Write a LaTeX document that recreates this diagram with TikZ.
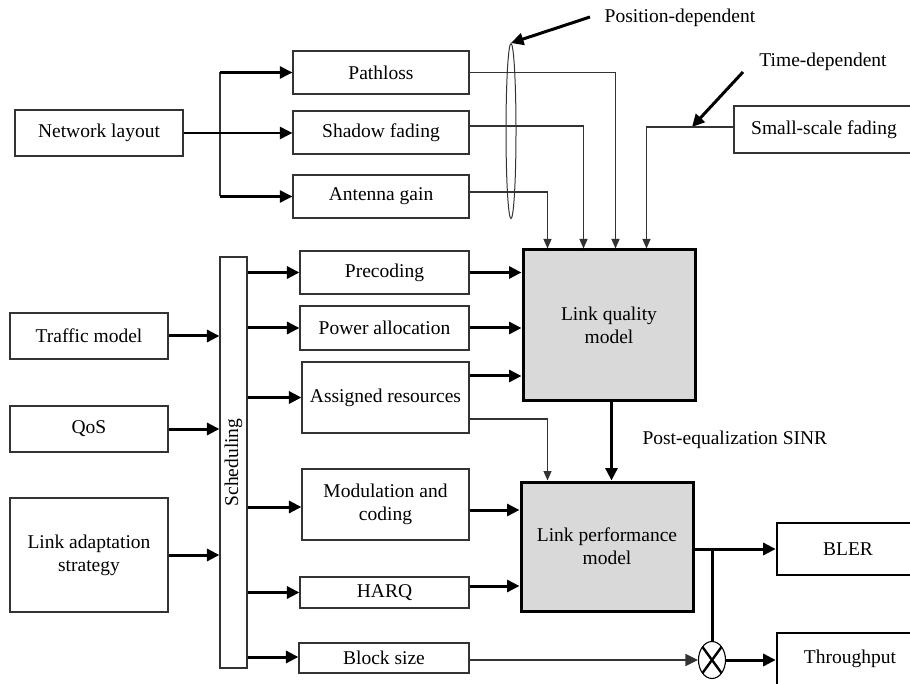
\documentclass[tikz,border=0pt]{standalone}
\usepackage{fontspec}
\setmainfont{Liberation Serif}
\usetikzlibrary{arrows.meta,calc,shapes.geometric}
\begin{document}
\begin{tikzpicture}[x=1pt,y=-1pt,
  every node/.style={font=\fontsize{19.5}{23}\selectfont},
  bx/.style={draw=black!80, line width=1.1pt, rectangle, inner sep=0pt, align=center},
  heavybox/.style={bx, draw=black, line width=2.6pt},
  modelbox/.style={bx, draw=black, line width=3pt, fill=gray!30},
  thk/.style={draw=black, line width=3pt},
  mid/.style={draw=black, line width=2.2pt},
  thn/.style={draw=black!80, line width=1.1pt},
  bigtip/.style={-{Triangle[length=12.5pt,width=12pt]}},
  smalltip/.style={-{Triangle[length=9.5pt,width=8pt]}},
]
\useasboundingbox (0,0) rectangle (910,684);
\clip (0,0) rectangle (910,684);

% nodes
\node[bx, minimum width=168pt, minimum height=46pt] (net) at (99,133) {Network layout};
\node[bx, minimum width=176pt, minimum height=43pt] (path) at (381,72.5) {Pathloss};
\node[bx, minimum width=176pt, minimum height=43pt] (shad) at (381,132.5) {Shadow fading};
\node[bx, minimum width=176pt, minimum height=43pt] (ant) at (381,196.5) {Antenna gain};
\node[bx, minimum width=180pt, minimum height=47pt] (ssf) at (824,129.5) {Small-scale fading};

\node[bx, minimum width=158pt, minimum height=46pt] (traf) at (89,336) {Traffic model};
\node[bx, minimum width=158pt, minimum height=46pt] (qos) at (89,429) {QoS};
\node[bx, minimum width=158pt, minimum height=114pt] (las) at (89,555) {Link adaptation\\strategy};
\node[bx, minimum width=27pt, minimum height=411pt] (sch) at (233.5,462.5) {};
\node[rotate=90] (schl) at (sch.center) {Scheduling};

\node[bx, minimum width=169pt, minimum height=43pt] (prec) at (384.5,272.5) {Precoding};
\node[bx, minimum width=169pt, minimum height=44pt] (pow) at (384.5,328) {Power allocation};
\node[bx, minimum width=167pt, minimum height=71pt] (asg) at (385.5,397.5) {Assigned resources};
\node[bx, minimum width=167pt, minimum height=71pt] (mod) at (385.5,504.5) {Modulation and\\coding};
\node[bx, minimum width=169pt, minimum height=31pt] (harq) at (384.5,592.5) {HARQ};
\node[bx, minimum width=170pt, minimum height=30pt] (blk) at (384,658) {Block size};

\node[modelbox, minimum width=172pt, minimum height=150pt] (lqm) at (609,325) {Link quality\\model};
\node[modelbox, minimum width=172pt, minimum height=129pt] (lpm) at (607,546.5) {Link performance\\model};

\node[heavybox, minimum width=142pt, minimum height=52pt] (bler) at (848,549) {BLER};
\node[heavybox, minimum width=146pt, minimum height=52pt] (thr) at (850,659) {Throughput};

\node[ellipse, draw=black, line width=1.1pt, inner sep=0pt, minimum width=27pt, minimum height=37pt,
  path picture={\draw[line width=2.4pt] (path picture bounding box.north west) -- (path picture bounding box.south east)
  (path picture bounding box.north east) -- (path picture bounding box.south west);}] (mult) at (712,660) {};

\node[ellipse, draw=black!80, line width=1pt, inner sep=0pt, minimum width=10pt, minimum height=175pt] (ell) at (511,131) {};

\node (posl) at (680,18) {Position-dependent};
\node (timel) at (823,62) {Time-dependent};
\node[anchor=west] (sinr) at (639,440) {Post-equalization SINR};

% annotation arrows
\coordinate (pa) at (590,17);
\draw[thk, bigtip] (pa) -- (ell.north);
\coordinate (ta) at (743,72);
\coordinate (tb) at (692,127);
\draw[thk, bigtip] (ta) -- (tb);

% network layout fan-out
\coordinate (bus) at (220,0);
\draw[thn] (bus |- path.west) -- (bus |- ant.west);
\draw[mid, bigtip] (bus |- path.west) -- (path.west);
\draw[mid, bigtip] (net.east) -- (net.east -| shad.west);
\draw[mid, bigtip] (bus |- ant.west) -- (ant.west);

% channel inputs to link quality model
\draw[thn, smalltip] ($(ant.east)+(0,-4.5)$) -| ($(lqm.north west)+(26,0)$);
\draw[thn, smalltip] ($(shad.east)+(0,-6.5)$) -| ($(lqm.north west)+(62,0)$);
\draw[thn, smalltip] (path.east) -| ($(lqm.north west)+(94,0)$);
\draw[thn, smalltip] ($(ssf.west)+(0,-2.5)$) -| ($(lqm.north west)+(125,0)$);

% inputs to scheduling
\draw[thk, bigtip] (traf.east) -- (traf.east -| sch.west);
\draw[thk, bigtip] (qos.east) -- (qos.east -| sch.west);
\draw[thk, bigtip] (las.east) -- (las.east -| sch.west);

% scheduling outputs
\draw[thk, bigtip] (prec.west -| sch.east) -- (prec.west);
\draw[thk, bigtip] (pow.west -| sch.east) -- (pow.west);
\draw[thk, bigtip] (asg.west -| sch.east) -- (asg.west);
\draw[thk, bigtip] ($(mod.west -| sch.east)+(0,2.5)$) -- ($(mod.west)+(0,2.5)$);
\draw[thk, bigtip] (harq.west -| sch.east) -- (harq.west);
\draw[thk, bigtip] ($(blk.west -| sch.east)+(0,-1)$) -- ($(blk.west)+(0,-1)$);

% into link quality model
\draw[thk, bigtip] (prec.east) -- (prec.east -| lqm.west);
\draw[thk, bigtip] (pow.east) -- (pow.east -| lqm.west);
\draw[thk, bigtip] ($(asg.east)+(0,-21.5)$) -- ($(asg.east -| lqm.west)+(0,-21.5)$);

% into link performance model
\draw[thn, smalltip] ($(asg.east)+(0,21.5)$) -| ($(lpm.north west)+(28,0)$);
\draw[thk, bigtip] ($(lqm.south west)+(90,0)$) -- ($(lpm.north west)+(92,0)$);
\draw[thk, bigtip] ($(mod.east)+(0,5.5)$) -- ($(mod.east -| lpm.west)+(0,5.5)$);
\draw[thk, bigtip] ($(harq.east)+(0,-6.5)$) -- ($(harq.east -| lpm.west)+(0,-6.5)$);

% outputs
\draw[thk, bigtip] (lpm.east |- bler.west) -- (bler.west);
\coordinate (br) at (mult.north |- bler.west);
\draw[thk] (br) -- (mult.north);
\draw[thn, bigtip] (mult.west -| blk.east) -- (mult.west);
\draw[thk, bigtip] (mult.east) -- (mult.east -| thr.west);
\end{tikzpicture}
\end{document}
